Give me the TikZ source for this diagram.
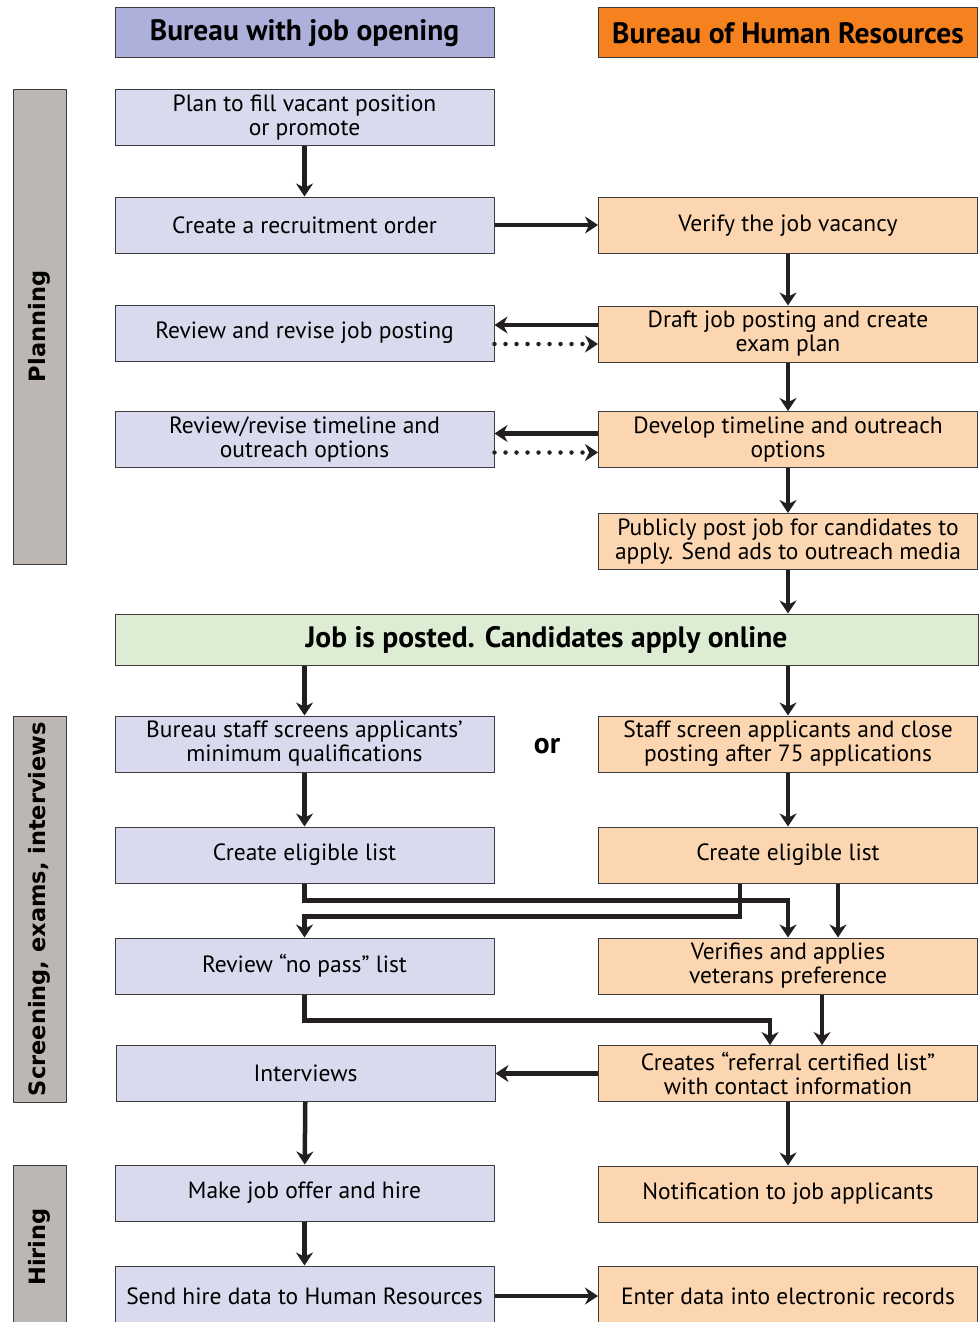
\documentclass[tikz,border=0pt]{standalone}
\usepackage{fontspec}
\setmainfont{PT Sans}
\newfontfamily\sidefont{DejaVu Sans}
\usetikzlibrary{arrows.meta}
\definecolor{headL}{RGB}{173,176,219}
\definecolor{headR}{RGB}{245,130,31}
\definecolor{boxL}{RGB}{217,218,238}
\definecolor{boxR}{RGB}{252,214,176}
\definecolor{postgreen}{RGB}{221,237,212}
\definecolor{sidegray}{RGB}{188,183,179}
\definecolor{bordergray}{RGB}{60,60,62}
\definecolor{linecol}{RGB}{35,31,32}

\begin{document}
\begin{tikzpicture}[x=1pt,y=-1pt,
    box/.style={draw=bordergray,line width=1pt,minimum width=379pt,minimum height=56pt,
        inner sep=0pt,align=center,font=\fontsize{23.5}{24}\selectfont},
    lbox/.style={box,fill=boxL},
    rbox/.style={box,fill=boxR},
    head/.style={box,minimum height=50pt,font=\bfseries\fontsize{29.5}{30}\selectfont},
    side/.style={draw=bordergray,fill=sidegray,line width=1pt,minimum height=53pt,
        inner sep=0pt,rotate=90,font=\sidefont\bfseries\fontsize{22.5}{26}\selectfont},
    link/.style={draw=linecol,line width=4.5pt,-{Stealth[length=13pt,width=17pt]}},
    back/.style={link,dash pattern=on 0pt off 11pt,line cap=round}]
    \useasboundingbox (0,0) rectangle (979,1322);

    \node[head,fill=headL] (bureau) at (304.5,33) {Bureau with job opening};
    \node[head,fill=headR] (hr) at (788,33) {Bureau of Human Resources};

    \node[side,minimum width=475pt] (planning) at (39.5,326.5) {Planning};
    \node[side,minimum width=386pt] (screening) at (39.5,909) {Screening, exams, interviews};
    \node[side,minimum width=164pt] (hiring) at (39.5,1247) {Hiring};

    \node[lbox] (plan) at (304.5,117.5) {Plan to fill vacant position\\or promote};
    \node[lbox] (create) at (304.5,225) {Create a recruitment order};
    \node[rbox] (verify) at (788,225.5) {Verify the job vacancy};
    \node[lbox] (review) at (304.5,333) {Review and revise job posting};
    \node[rbox] (draft) at (788,334) {Draft job posting and create\\exam plan};
    \node[lbox] (revtime) at (304.5,439.5) {Review/revise timeline and\\outreach options};
    \node[rbox] (devtime) at (788,439.5) {Develop timeline and outreach\\options};
    \node[rbox] (publish) at (788,541.5) {Publicly post job for candidates to\\apply. Send ads to outreach media};
    \node[box,fill=postgreen,minimum width=863pt,minimum height=51pt,
        font=\bfseries\fontsize{29.5}{30}\selectfont] (posted) at (546.5,639.5)
        {Job is posted. Candidates apply online};
    \node[lbox] (scrL) at (304.5,744) {Bureau staff screens applicants’\\minimum qualifications};
    \node[rbox] (scrR) at (788,744) {Staff screen applicants and close\\posting after 75 applications};
    \node[font=\bfseries\fontsize{29.5}{30}\selectfont] (or) at (547,746) {or};
    \node[lbox] (eligL) at (304.5,855) {Create eligible list};
    \node[rbox] (eligR) at (788,855) {Create eligible list};
    \node[lbox] (nopass) at (304.5,966) {Review “no pass” list};
    \node[rbox] (veteran) at (788,966) {Verifies and applies\\veterans preference};
    \node[lbox] (interview) at (305.5,1073) {Interviews};
    \node[rbox] (referral) at (788,1073.5) {Creates “referral certified list”\\with contact information};
    \node[lbox] (offer) at (304.5,1193) {Make job offer and hire};
    \node[rbox] (notify) at (788,1194) {Notification to job applicants};
    \node[lbox,minimum height=60pt] (senddata) at (304.5,1296) {Send hire data to Human Resources};
    \node[rbox,minimum height=60pt] (records) at (788,1296) {Enter data into electronic records};

    \draw[link] (plan) -- (create);
    \draw[link] (create.east) -- (create.east -| verify.west);
    \draw[link] (verify) -- (draft);
    \draw[link] ([yshift=9pt]draft.west) -- ([yshift=9pt]draft.west -| review.east);
    \draw[back] ([yshift=-11pt]review.east) -- ([yshift=-11pt]review.east -| draft.west);
    \draw[link] (draft) -- (devtime);
    \draw[link] ([yshift=6pt]devtime.west) -- ([yshift=6pt]devtime.west -| revtime.east);
    \draw[back] ([yshift=-13pt]revtime.east) -- ([yshift=-13pt]revtime.east -| devtime.west);
    \draw[link] (devtime) -- (publish);
    \draw[link] (publish) -- (publish |- posted.north);
    \draw[link] (posted.south -| scrL) -- (scrL);
    \draw[link] (posted.south -| scrR) -- (scrR);
    \draw[link] (scrL) -- (eligL);
    \draw[link] (scrR) -- (eligR);
    \draw[link] (eligL.south) -- ++(0,17) -| (veteran.north);
    \draw[link] ([xshift=-48pt]eligR.south) -- ++(0,33) -| (nopass.north);
    \draw[link] ([xshift=50pt]eligR.south) -- ([xshift=50pt]veteran.north);
    \draw[link] (nopass.south) -- ++(0,26) -| ([xshift=-18pt]referral.north);
    \draw[link] ([xshift=34pt]veteran.south) -- ([xshift=34pt]referral.north);
    \draw[link] (referral.west) -- (referral.west -| interview.east);
    \draw[link] (interview) -- (offer);
    \draw[link] (referral) -- (notify);
    \draw[link] (offer) -- (senddata);
    \draw[link] (senddata.east) -- (senddata.east -| records.west);
\end{tikzpicture}
\end{document}
